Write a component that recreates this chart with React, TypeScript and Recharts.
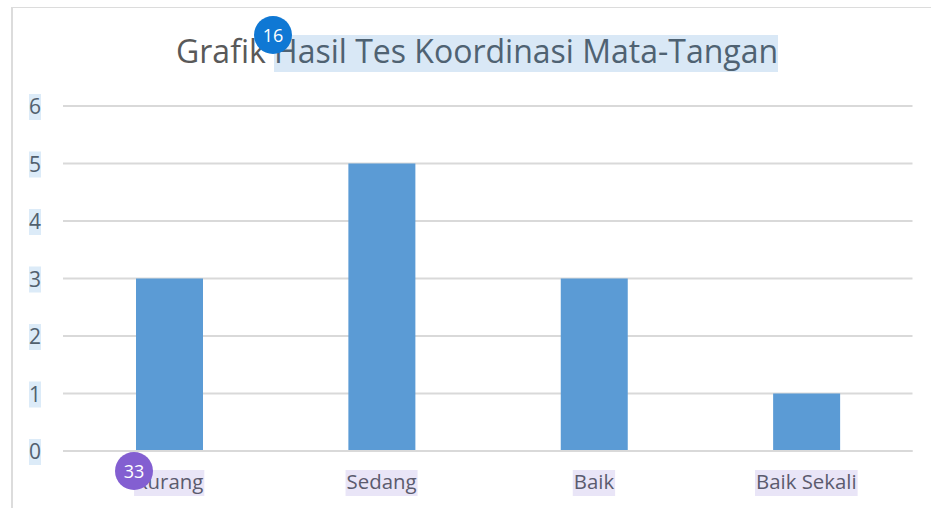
import React from "react";
import { BarChart, Bar, XAxis, YAxis, CartesianGrid } from "recharts";

const categories = ["Kurang", "Sedang", "Baik", "Baik Sekali"];
const values = [3, 5, 3, 1];
const yTicks = [0, 1, 2, 3, 4, 5, 6];
const titleStart = "Grafik ";
const titleMarked = "Hasil Tes Koordinasi Mata-Tangan";

const data = categories.map((name, i) => ({ name, value: values[i] }));
const FONT = "'Open Sans', sans-serif";

const textWidth = (text: string, font: string) => {
  const ctx = document.createElement("canvas").getContext("2d");
  if (!ctx) return text.length * 10;
  ctx.font = font;
  return ctx.measureText(text).width;
};

const XTick = (props: any) => {
  const { x, payload } = props;
  const w = textWidth(payload.value, "20.4px 'Open Sans'");
  return (
    <g>
      <rect x={x - w / 2 - 1} y={470} width={w + 2} height={26} fill="#e9e5f7" />
      <text x={x} y={489} textAnchor="middle" fontSize={20.4} fill="#5b5b6e" fontFamily={FONT}>
        {payload.value}
      </text>
    </g>
  );
};

const YTick = (props: any) => {
  const { y, payload } = props;
  return (
    <g>
      <rect x={29} y={y - 12} width={12} height={26} fill="#dcebf8" />
      <text x={35} y={y + 8} textAnchor="middle" fontSize={21} fill="#51606e" fontFamily={FONT}>
        {payload.value}
      </text>
    </g>
  );
};

const Badge = ({ left, top, color, label }: { left: number; top: number; color: string; label: string }) => (
  <div
    style={{
      position: "absolute",
      left,
      top,
      width: 38,
      height: 38,
      borderRadius: "50%",
      background: color,
      color: "#fff",
      fontFamily: FONT,
      fontSize: 18,
      lineHeight: "38px",
      textAlign: "center",
    }}
  >
    {label}
  </div>
);

export default function App() {
  return (
    <div style={{ position: "absolute", left: 0, top: 0, width: 931, height: 508, overflow: "hidden", background: "#fff" }}>
      <div style={{ position: "absolute", left: 11, top: 7, width: 920, height: 501, borderLeft: "2px solid #dcdcdc", borderTop: "1px solid #dcdcdc", boxSizing: "border-box" }} />
      <div
        style={{
          position: "absolute",
          left: 176,
          top: 35,
          whiteSpace: "nowrap",
          fontFamily: FONT,
          fontSize: 32,
          lineHeight: "32px",
          color: "#595959",
        }}
      >
        {titleStart}
        <span style={{ display: "inline-block", height: 37, background: "#d9e8f6", color: "#4f6272" }}>{titleMarked}</span>
      </div>
      <BarChart
        width={931}
        height={508}
        data={data}
        margin={{ top: 106, right: 18.5, left: 0, bottom: 0 }}
        style={{ position: "absolute", left: 0, top: 0 }}
      >
        <CartesianGrid vertical={false} stroke="#d9d9d9" strokeWidth={2} />
        <XAxis dataKey="name" height={57} axisLine={{ stroke: "#d9d9d9", strokeWidth: 2 }} tickLine={false} tick={<XTick />} interval={0} />
        <YAxis width={63} domain={[0, 6]} ticks={yTicks} axisLine={false} tickLine={false} tick={<YTick />} interval={0} />
        <Bar dataKey="value" fill="#5b9bd5" barSize={67} isAnimationActive={false} />
      </BarChart>
      <Badge left={254} top={16} color="#0f78d4" label="16" />
      <Badge left={115} top={452} color="#835fd1" label="33" />
    </div>
  );
}
